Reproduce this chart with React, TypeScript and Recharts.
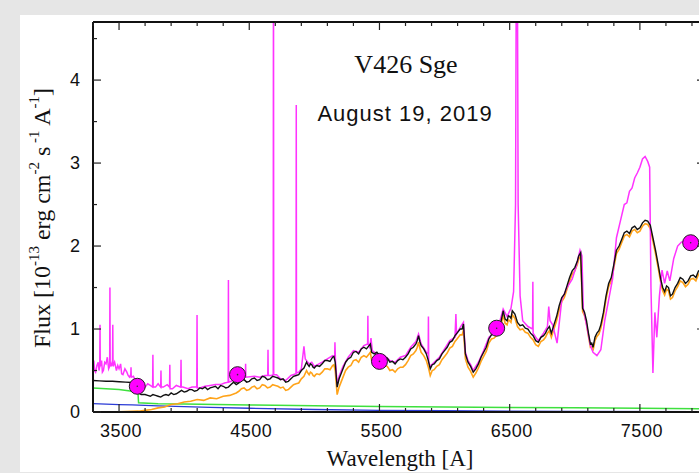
import React from 'react';
import { ComposedChart, Line, Scatter, XAxis, YAxis } from 'recharts';

// observed spectrum (magenta), wavelength in A, flux in 1e-13 erg/cm2/s/A
const observed: [number, number][] = [
  [3300, 0.55], [3306, 0.62], [3312, 0.5], [3320, 0.48], [3330, 0.56], [3340, 0.6],
  [3346, 0.5], [3352, 0.55], [3354, 1.05], [3356, 0.55], [3366, 0.62], [3372, 0.48],
  [3380, 0.5], [3390, 0.6], [3400, 0.58], [3410, 0.66], [3420, 0.52], [3428, 0.55],
  [3430, 1.5], [3432, 0.6], [3440, 0.55], [3450, 0.62], [3452, 1.05], [3454, 0.55],
  [3466, 0.6], [3480, 0.5], [3490, 0.56], [3500, 0.52], [3512, 0.58], [3520, 0.46],
  [3530, 0.45], [3545, 0.52], [3560, 0.48], [3570, 0.44], [3580, 0.42], [3590, 0.45],
  [3592, 0.54], [3594, 0.42], [3610, 0.43], [3620, 0.4], [3635, 0.38], [3650, 0.36],
  [3680, 0.33], [3700, 0.3], [3720, 0.34], [3740, 0.32],
  [3758, 0.3], [3760, 0.69], [3762, 0.3], [3780, 0.3], [3800, 0.34], [3820, 0.3],
  [3822, 0.5], [3824, 0.3], [3840, 0.3], [3870, 0.33], [3888, 0.3], [3890, 0.57],
  [3892, 0.28], [3910, 0.28], [3940, 0.32], [3974, 0.3], [3976, 0.63], [3978, 0.3],
  [3990, 0.3], [4030, 0.28], [4060, 0.3], [4097, 0.3], [4099, 1.17], [4101, 0.29],
  [4120, 0.29], [4160, 0.31], [4200, 0.32], [4240, 0.33], [4280, 0.33], [4310, 0.35],
  [4338, 0.36], [4340, 1.59], [4342, 0.36], [4360, 0.37], [4400, 0.4], [4440, 0.42],
  [4470, 0.42], [4472, 0.58], [4474, 0.42], [4540, 0.43], [4580, 0.42], [4620, 0.44],
  [4642, 0.44], [4644, 0.75], [4646, 0.44], [4670, 0.44], [4684, 0.45], [4686, 6.0],
  [4688, 0.45], [4710, 0.45], [4740, 0.4], [4780, 0.38], [4820, 0.44], [4859, 0.46],
  [4861, 3.7], [4863, 0.47], [4880, 0.48], [4900, 0.52], [4920, 0.79], [4930, 0.64],
  [4960, 0.58], [4980, 0.6], [5000, 0.55], [5060, 0.6], [5100, 0.64], [5140, 0.68],
  [5156, 0.66], [5158, 0.84], [5162, 0.62], [5175, 0.33], [5190, 0.43], [5220, 0.55],
  [5260, 0.66], [5300, 0.74], [5340, 0.72], [5380, 0.8], [5409, 0.82], [5411, 1.16],
  [5413, 0.82], [5425, 0.78], [5435, 0.89], [5445, 0.74], [5460, 0.72], [5500, 0.7],
  [5540, 0.68], [5580, 0.62], [5620, 0.6], [5660, 0.66], [5700, 0.68], [5740, 0.78],
  [5780, 0.85], [5800, 0.94], [5820, 0.82], [5860, 0.72], [5874, 0.7], [5876, 1.15],
  [5878, 0.6], [5890, 0.55], [5920, 0.6], [5960, 0.66], [6000, 0.76], [6040, 0.86],
  [6080, 0.9], [6087, 1.18], [6092, 0.94], [6120, 1.02], [6145, 1.08], [6160, 0.72],
  [6180, 0.62], [6200, 0.57], [6220, 0.5], [6260, 0.6], [6300, 0.74], [6340, 0.9],
  [6380, 0.96], [6420, 1.07], [6450, 1.24], [6480, 1.15], [6510, 1.25], [6530, 1.45],
  [6545, 2.5], [6552, 6.0], [6558, 6.0], [6565, 2.5], [6580, 1.4], [6600, 1.1],
  [6640, 1.03], [6676, 1.0], [6678, 1.57], [6680, 0.95], [6700, 0.9], [6720, 0.86],
  [6760, 0.95], [6790, 1.03], [6800, 1.27], [6810, 1.1], [6830, 1.05], [6864, 0.83],
  [6900, 1.35], [6940, 1.5], [6980, 1.6], [7010, 1.75], [7040, 1.95], [7055, 1.88],
  [7065, 1.25], [7090, 1.05], [7120, 0.8], [7140, 0.72], [7170, 0.68], [7200, 0.75],
  [7230, 1.1], [7260, 1.35], [7290, 1.6], [7320, 2.1], [7350, 2.3], [7380, 2.5],
  [7400, 2.52], [7420, 2.66], [7440, 2.7], [7460, 2.82], [7480, 2.88], [7500, 2.95],
  [7520, 3.05], [7540, 3.08], [7560, 3.02], [7575, 2.95], [7585, 1.5], [7600, 0.47],
  [7615, 1.2], [7630, 0.9], [7650, 1.4], [7670, 1.71], [7690, 1.55], [7710, 1.7],
  [7730, 1.58], [7760, 1.85], [7790, 2.0], [7820, 2.05], [7850, 2.05], [7880, 2.02],
  [7920, 2.05], [7960, 2.08], [8000, 2.1],
];

// total model (black)
const model: [number, number][] = [
  [3300, 0.38], [3350, 0.375], [3400, 0.37], [3450, 0.37], [3500, 0.365], [3550, 0.36],
  [3600, 0.355], [3640, 0.35], [3650, 0.23], [3670, 0.21], [3700, 0.21], [3720, 0.2],
  [3740, 0.19], [3760, 0.21], [3780, 0.2], [3800, 0.19], [3820, 0.18], [3840, 0.2],
  [3860, 0.21], [3880, 0.2], [3900, 0.23], [3920, 0.21], [3940, 0.22], [3960, 0.24],
  [3980, 0.26], [4000, 0.24], [4020, 0.25], [4040, 0.27], [4060, 0.27], [4080, 0.25],
  [4100, 0.26], [4120, 0.29], [4140, 0.28], [4160, 0.3], [4180, 0.27], [4200, 0.29],
  [4220, 0.3], [4240, 0.31], [4260, 0.28], [4280, 0.32], [4300, 0.31], [4320, 0.29],
  [4340, 0.3], [4360, 0.33], [4380, 0.36], [4400, 0.33], [4420, 0.35], [4440, 0.38],
  [4460, 0.39], [4480, 0.36], [4500, 0.37], [4520, 0.4], [4540, 0.41], [4560, 0.38],
  [4580, 0.39], [4600, 0.43], [4620, 0.42], [4640, 0.39], [4660, 0.4], [4680, 0.43],
  [4700, 0.42], [4720, 0.41], [4740, 0.39], [4760, 0.4], [4780, 0.36], [4800, 0.37],
  [4820, 0.4], [4840, 0.43], [4860, 0.44], [4880, 0.45], [4900, 0.5], [4920, 0.53],
  [4940, 0.6], [4950, 0.57], [4960, 0.55], [4970, 0.58], [4980, 0.57], [4990, 0.54],
  [5000, 0.53], [5010, 0.55], [5020, 0.56], [5040, 0.55], [5060, 0.58], [5080, 0.62],
  [5100, 0.62], [5120, 0.61], [5140, 0.66], [5150, 0.67], [5160, 0.6], [5175, 0.3],
  [5190, 0.4], [5205, 0.46], [5220, 0.52], [5240, 0.6], [5260, 0.64], [5280, 0.66],
  [5300, 0.72], [5320, 0.73], [5340, 0.7], [5360, 0.76], [5380, 0.78], [5400, 0.76],
  [5420, 0.8], [5430, 0.82], [5440, 0.72], [5460, 0.7], [5480, 0.72], [5500, 0.68],
  [5520, 0.64], [5540, 0.66], [5560, 0.65], [5580, 0.6], [5600, 0.61], [5620, 0.58],
  [5640, 0.62], [5660, 0.64], [5680, 0.63], [5700, 0.66], [5720, 0.7], [5740, 0.76],
  [5760, 0.78], [5780, 0.82], [5790, 0.86], [5800, 0.92], [5810, 0.85], [5820, 0.8],
  [5840, 0.76], [5860, 0.7], [5875, 0.62], [5890, 0.52], [5905, 0.57], [5920, 0.58],
  [5940, 0.62], [5960, 0.64], [5980, 0.7], [6000, 0.74], [6020, 0.78], [6040, 0.84],
  [6060, 0.86], [6080, 0.92], [6100, 0.96], [6120, 1.0], [6135, 1.0], [6145, 1.06],
  [6160, 0.7], [6180, 0.6], [6200, 0.55], [6220, 0.48], [6240, 0.52], [6260, 0.58],
  [6280, 0.66], [6300, 0.72], [6320, 0.78], [6340, 0.88], [6360, 0.93], [6380, 0.94],
  [6400, 0.97], [6420, 1.05], [6435, 1.1], [6450, 1.22], [6465, 1.12], [6480, 1.1],
  [6490, 1.16], [6500, 1.15], [6510, 1.13], [6520, 1.22], [6540, 1.18], [6560, 1.08],
  [6580, 1.04], [6600, 1.05], [6620, 1.01], [6640, 1.0], [6660, 0.95], [6680, 0.92],
  [6700, 0.86], [6720, 0.84], [6740, 0.9], [6760, 0.92], [6775, 0.95], [6790, 1.0],
  [6805, 1.03], [6820, 0.95], [6840, 1.05], [6860, 1.15], [6880, 1.28], [6900, 1.38],
  [6920, 1.42], [6940, 1.52], [6960, 1.62], [6980, 1.7], [7000, 1.74], [7020, 1.82],
  [7030, 1.88], [7045, 1.92], [7060, 1.25], [7075, 1.2], [7090, 1.1], [7105, 0.95],
  [7120, 0.82], [7130, 0.83], [7140, 0.78], [7155, 0.9], [7170, 0.95], [7185, 0.98],
  [7200, 1.05], [7220, 1.2], [7240, 1.4], [7260, 1.55], [7280, 1.62], [7300, 1.78],
  [7320, 1.95], [7340, 2.0], [7360, 2.08], [7380, 2.16], [7400, 2.18], [7420, 2.15],
  [7440, 2.22], [7460, 2.24], [7480, 2.2], [7500, 2.22], [7520, 2.28], [7540, 2.31],
  [7560, 2.3], [7580, 2.25], [7600, 2.1], [7620, 1.95], [7640, 1.78], [7660, 1.6],
  [7675, 1.5], [7690, 1.45], [7705, 1.52], [7720, 1.5], [7735, 1.4], [7750, 1.42],
  [7770, 1.5], [7790, 1.55], [7810, 1.62], [7830, 1.6], [7850, 1.55], [7870, 1.58],
  [7890, 1.64], [7910, 1.65], [7930, 1.62], [7950, 1.7], [7975, 1.72], [8000, 1.72],
];

// cool giant (orange)
const giant: [number, number][] = [
  [3450, 0.0], [3550, 0.005], [3650, 0.01], [3700, 0.02], [3750, 0.03], [3800, 0.05],
  [3850, 0.06], [3900, 0.09], [3950, 0.1], [4000, 0.12], [4050, 0.13], [4100, 0.15],
  [4150, 0.14], [4200, 0.17], [4250, 0.16], [4300, 0.19], [4350, 0.2], [4400, 0.23],
  [4420, 0.25], [4440, 0.28], [4460, 0.29], [4480, 0.26], [4500, 0.27], [4520, 0.3],
  [4540, 0.31], [4560, 0.28], [4580, 0.29], [4600, 0.33], [4620, 0.32], [4640, 0.29],
  [4660, 0.3], [4680, 0.33], [4700, 0.32], [4720, 0.31], [4740, 0.29], [4760, 0.3],
  [4780, 0.26], [4800, 0.27], [4820, 0.3], [4840, 0.33], [4860, 0.34], [4880, 0.35],
  [4900, 0.4], [4920, 0.43], [4940, 0.5], [4950, 0.47], [4960, 0.45], [4970, 0.48],
  [4980, 0.47], [4990, 0.44], [5000, 0.43], [5010, 0.45], [5020, 0.46], [5040, 0.45],
  [5060, 0.48], [5080, 0.52], [5100, 0.52], [5120, 0.51], [5140, 0.56], [5150, 0.57],
  [5160, 0.5], [5175, 0.21], [5190, 0.3], [5205, 0.36], [5220, 0.42], [5240, 0.5],
  [5260, 0.54], [5280, 0.56], [5300, 0.62], [5320, 0.63], [5340, 0.6], [5360, 0.66],
  [5380, 0.68], [5400, 0.66], [5420, 0.7], [5430, 0.72], [5440, 0.62], [5460, 0.6],
  [5480, 0.62], [5500, 0.58], [5520, 0.54], [5540, 0.56], [5560, 0.55], [5580, 0.5],
  [5600, 0.51], [5620, 0.48], [5640, 0.52], [5660, 0.54], [5680, 0.54], [5700, 0.57],
  [5720, 0.62], [5740, 0.68], [5760, 0.7], [5780, 0.74], [5790, 0.78], [5800, 0.84],
  [5810, 0.77], [5820, 0.72], [5840, 0.68], [5860, 0.62], [5875, 0.54], [5890, 0.44],
  [5905, 0.5], [5920, 0.51], [5940, 0.55], [5960, 0.57], [5980, 0.63], [6000, 0.67],
  [6020, 0.71], [6040, 0.77], [6060, 0.79], [6080, 0.85], [6100, 0.89], [6120, 0.93],
  [6135, 0.93], [6145, 0.99], [6160, 0.64], [6180, 0.54], [6200, 0.49], [6220, 0.42],
  [6240, 0.47], [6260, 0.53], [6280, 0.61], [6300, 0.67], [6320, 0.73], [6340, 0.83],
  [6360, 0.88], [6380, 0.89], [6400, 0.92], [6420, 1.0], [6435, 1.05], [6450, 1.17],
  [6465, 1.07], [6480, 1.05], [6490, 1.11], [6500, 1.1], [6510, 1.08], [6520, 1.17],
  [6540, 1.13], [6560, 1.03], [6580, 0.99], [6600, 1.0], [6620, 0.96], [6640, 0.95],
  [6660, 0.9], [6680, 0.87], [6700, 0.81], [6720, 0.79], [6740, 0.85], [6760, 0.87],
  [6775, 0.9], [6790, 0.95], [6805, 0.98], [6820, 0.9], [6840, 1.0], [6860, 1.1],
  [6880, 1.23], [6900, 1.33], [6920, 1.38], [6940, 1.48], [6960, 1.58], [6980, 1.66],
  [7000, 1.7], [7020, 1.78], [7030, 1.84], [7045, 1.88], [7060, 1.21], [7075, 1.16],
  [7090, 1.06], [7105, 0.91], [7120, 0.78], [7130, 0.79], [7140, 0.74], [7155, 0.86],
  [7170, 0.91], [7185, 0.94], [7200, 1.01], [7220, 1.16], [7240, 1.36], [7260, 1.51],
  [7280, 1.58], [7300, 1.74], [7320, 1.91], [7340, 1.96], [7360, 2.04], [7380, 2.12],
  [7400, 2.14], [7420, 2.11], [7440, 2.18], [7460, 2.2], [7480, 2.16], [7500, 2.18],
  [7520, 2.24], [7540, 2.27], [7560, 2.26], [7580, 2.21], [7600, 2.06], [7620, 1.91],
  [7640, 1.74], [7660, 1.56], [7675, 1.46], [7690, 1.41], [7705, 1.48], [7720, 1.46],
  [7735, 1.36], [7750, 1.38], [7770, 1.46], [7790, 1.51], [7810, 1.58], [7830, 1.56],
  [7850, 1.51], [7870, 1.54], [7890, 1.6], [7910, 1.61], [7930, 1.58], [7950, 1.66],
  [7975, 1.68], [8000, 1.68],
];

// nebular continuum (green)
const nebula: [number, number][] = [
  [3300, 0.29], [3400, 0.28], [3500, 0.27], [3600, 0.25], [3645, 0.24], [3650, 0.11],
  [3800, 0.1], [4000, 0.095], [4500, 0.085], [5000, 0.075], [5500, 0.065], [6000, 0.06],
  [6500, 0.055], [7000, 0.05], [7500, 0.045], [8000, 0.04],
];

// hot component (blue)
const hotStar: [number, number][] = [
  [3300, 0.1], [3400, 0.095], [3500, 0.09], [3600, 0.085], [3800, 0.075], [4000, 0.065],
  [4200, 0.055], [4500, 0.045], [5000, 0.03], [5500, 0.02], [6000, 0.015], [6500, 0.01],
  [7000, 0.008], [8000, 0.005],
];

// photometric points
const photometry: [number, number][] = [
  [3640, 0.31], [4410, 0.45], [5500, 0.61], [6400, 1.01], [7890, 2.04],
];

const xTicks = [3300, 3500, 3700, 3900, 4100, 4300, 4500, 4700, 4900, 5100, 5300, 5500, 5700, 5900, 6100, 6300, 6500, 6700, 6900, 7100, 7300, 7500, 7700, 7900];
const xLabels = [3500, 4500, 5500, 6500, 7500];
const yTicks = [0, 0.5, 1, 1.5, 2, 2.5, 3, 3.5, 4, 4.5];
const yLabels = [0, 1, 2, 3, 4];

const rows = (pts: [number, number][]) => pts.map(([wl, f]) => ({ wl, f }));

const tickColor = '#222';
const sans = '"Liberation Sans", Arial, sans-serif';
const serif = '"Liberation Serif", "Times New Roman", serif';

const BottomTick = (props: any) => {
  const { x, y, payload } = props;
  const major = xLabels.includes(payload.value);
  return (
    <g>
      <line x1={x} x2={x} y1={y} y2={y - (major ? 8 : 4)} stroke={tickColor} strokeWidth={1.2} />
      {major && (
        <text x={x + 2} y={y + 25} textAnchor="middle" fontFamily={sans} fontSize={18} letterSpacing={0.5} fill="#111">
          {payload.value}
        </text>
      )}
    </g>
  );
};

const TopTick = (props: any) => {
  const { x, y, payload } = props;
  const major = xLabels.includes(payload.value);
  return <line x1={x} x2={x} y1={y} y2={y + (major ? 8 : 4)} stroke={tickColor} strokeWidth={1.2} />;
};

const LeftTick = (props: any) => {
  const { x, y, payload } = props;
  const major = yLabels.includes(payload.value);
  return (
    <g>
      <line x1={x} x2={x + (major ? 8 : 4)} y1={y} y2={y} stroke={tickColor} strokeWidth={1.2} />
      {major && (
        <text x={x - 13} y={y + 6} textAnchor="end" fontFamily={sans} fontSize={18} fill="#111">
          {payload.value}
        </text>
      )}
    </g>
  );
};

const RightTick = (props: any) => {
  const { x, y, payload } = props;
  const major = yLabels.includes(payload.value);
  return <line x1={x} x2={x - (major ? 8 : 4)} y1={y} y2={y} stroke={tickColor} strokeWidth={1.2} />;
};

const PhotDot = (props: any) => {
  const { cx, cy } = props;
  return (
    <g>
      <circle cx={cx} cy={cy} r={8} fill="#ff00ff" stroke="#222" strokeWidth={1} />
      <circle cx={cx} cy={cy} r={0.8} fill="#333" />
    </g>
  );
};

export default function App() {
  const axisLine = { stroke: '#111', strokeWidth: 2 };
  return (
    <div style={{ position: 'fixed', left: 0, top: 0, width: 699, height: 473, overflow: 'hidden', background: '#e6e6e6' }}>
      <div style={{ position: 'absolute', left: 20, top: 15, width: 720, height: 457, background: '#fff' }} />
      <div style={{ position: 'absolute', left: 0, top: 0 }}>
        <ComposedChart width={720} height={473} margin={{ top: 21, right: 14, bottom: 60, left: 92 }}>
          <XAxis xAxisId="bottom" dataKey="wl" type="number" domain={[3300, 8000]} ticks={xTicks} interval={0}
            height={1} tickSize={0} tickMargin={0} axisLine={axisLine} tickLine={false} tick={BottomTick} allowDataOverflow />
          <XAxis xAxisId="top" orientation="top" dataKey="wl" type="number" domain={[3300, 8000]} ticks={xTicks} interval={0}
            height={1} tickSize={0} tickMargin={0} axisLine={axisLine} tickLine={false} tick={TopTick} allowDataOverflow />
          <YAxis yAxisId="left" dataKey="f" type="number" domain={[0, 4.7]} ticks={yTicks} interval={0}
            width={1} tickSize={0} tickMargin={0} axisLine={axisLine} tickLine={false} tick={LeftTick} allowDataOverflow />
          <YAxis yAxisId="right" orientation="right" dataKey="f" type="number" domain={[0, 4.7]} ticks={yTicks} interval={0}
            width={1} tickSize={0} tickMargin={0} axisLine={axisLine} tickLine={false} tick={RightTick} allowDataOverflow />
          <Line data={rows(hotStar)} dataKey="f" xAxisId="top" yAxisId="right" type="linear" stroke="#2b3bd6" strokeWidth={1.3} dot={false} isAnimationActive={false} />
          <Line data={rows(nebula)} dataKey="f" xAxisId="bottom" yAxisId="left" type="linear" stroke="#3ee03e" strokeWidth={1.5} dot={false} isAnimationActive={false} />
          <Line data={rows(giant)} dataKey="f" xAxisId="bottom" yAxisId="left" type="linear" stroke="#ffa319" strokeWidth={1.6} dot={false} isAnimationActive={false} />
          <Line data={rows(observed)} dataKey="f" xAxisId="bottom" yAxisId="left" type="linear" stroke="#ff33ff" strokeWidth={1.5} dot={false} isAnimationActive={false} />
          <Line data={rows(model)} dataKey="f" xAxisId="bottom" yAxisId="left" type="linear" stroke="#111" strokeWidth={1.4} dot={false} isAnimationActive={false} />
          <Scatter data={rows(photometry)} dataKey="f" xAxisId="bottom" yAxisId="left" shape={PhotDot} isAnimationActive={false} />
        </ComposedChart>
      </div>
      <svg width={699} height={473} style={{ position: 'absolute', left: 0, top: 0, pointerEvents: 'none' }}>
        <text x={406} y={73} textAnchor="middle" fontFamily={serif} fontSize={26} fill="#111">V426 Sge</text>
        <text x={405} y={121} textAnchor="middle" fontFamily={sans} fontSize={22} letterSpacing={1} fill="#111">August 19, 2019</text>
        <text x={400} y={466} textAnchor="middle" fontFamily={serif} fontSize={23} fill="#111">Wavelength [A]</text>
        <text transform="translate(50,218) rotate(-90)" textAnchor="middle" fontFamily={serif} fontSize={24} fill="#111">
          Flux [10<tspan dy={-11} fontSize={15}>-13</tspan>
          <tspan dy={11}> erg cm</tspan><tspan dy={-11} fontSize={15}>-2</tspan>
          <tspan dy={11}> s</tspan><tspan dy={-11} fontSize={15}> -1</tspan>
          <tspan dy={11}> A</tspan><tspan dy={-11} fontSize={15}>-1</tspan>
          <tspan dy={11}>]</tspan>
        </text>
      </svg>
    </div>
  );
}
